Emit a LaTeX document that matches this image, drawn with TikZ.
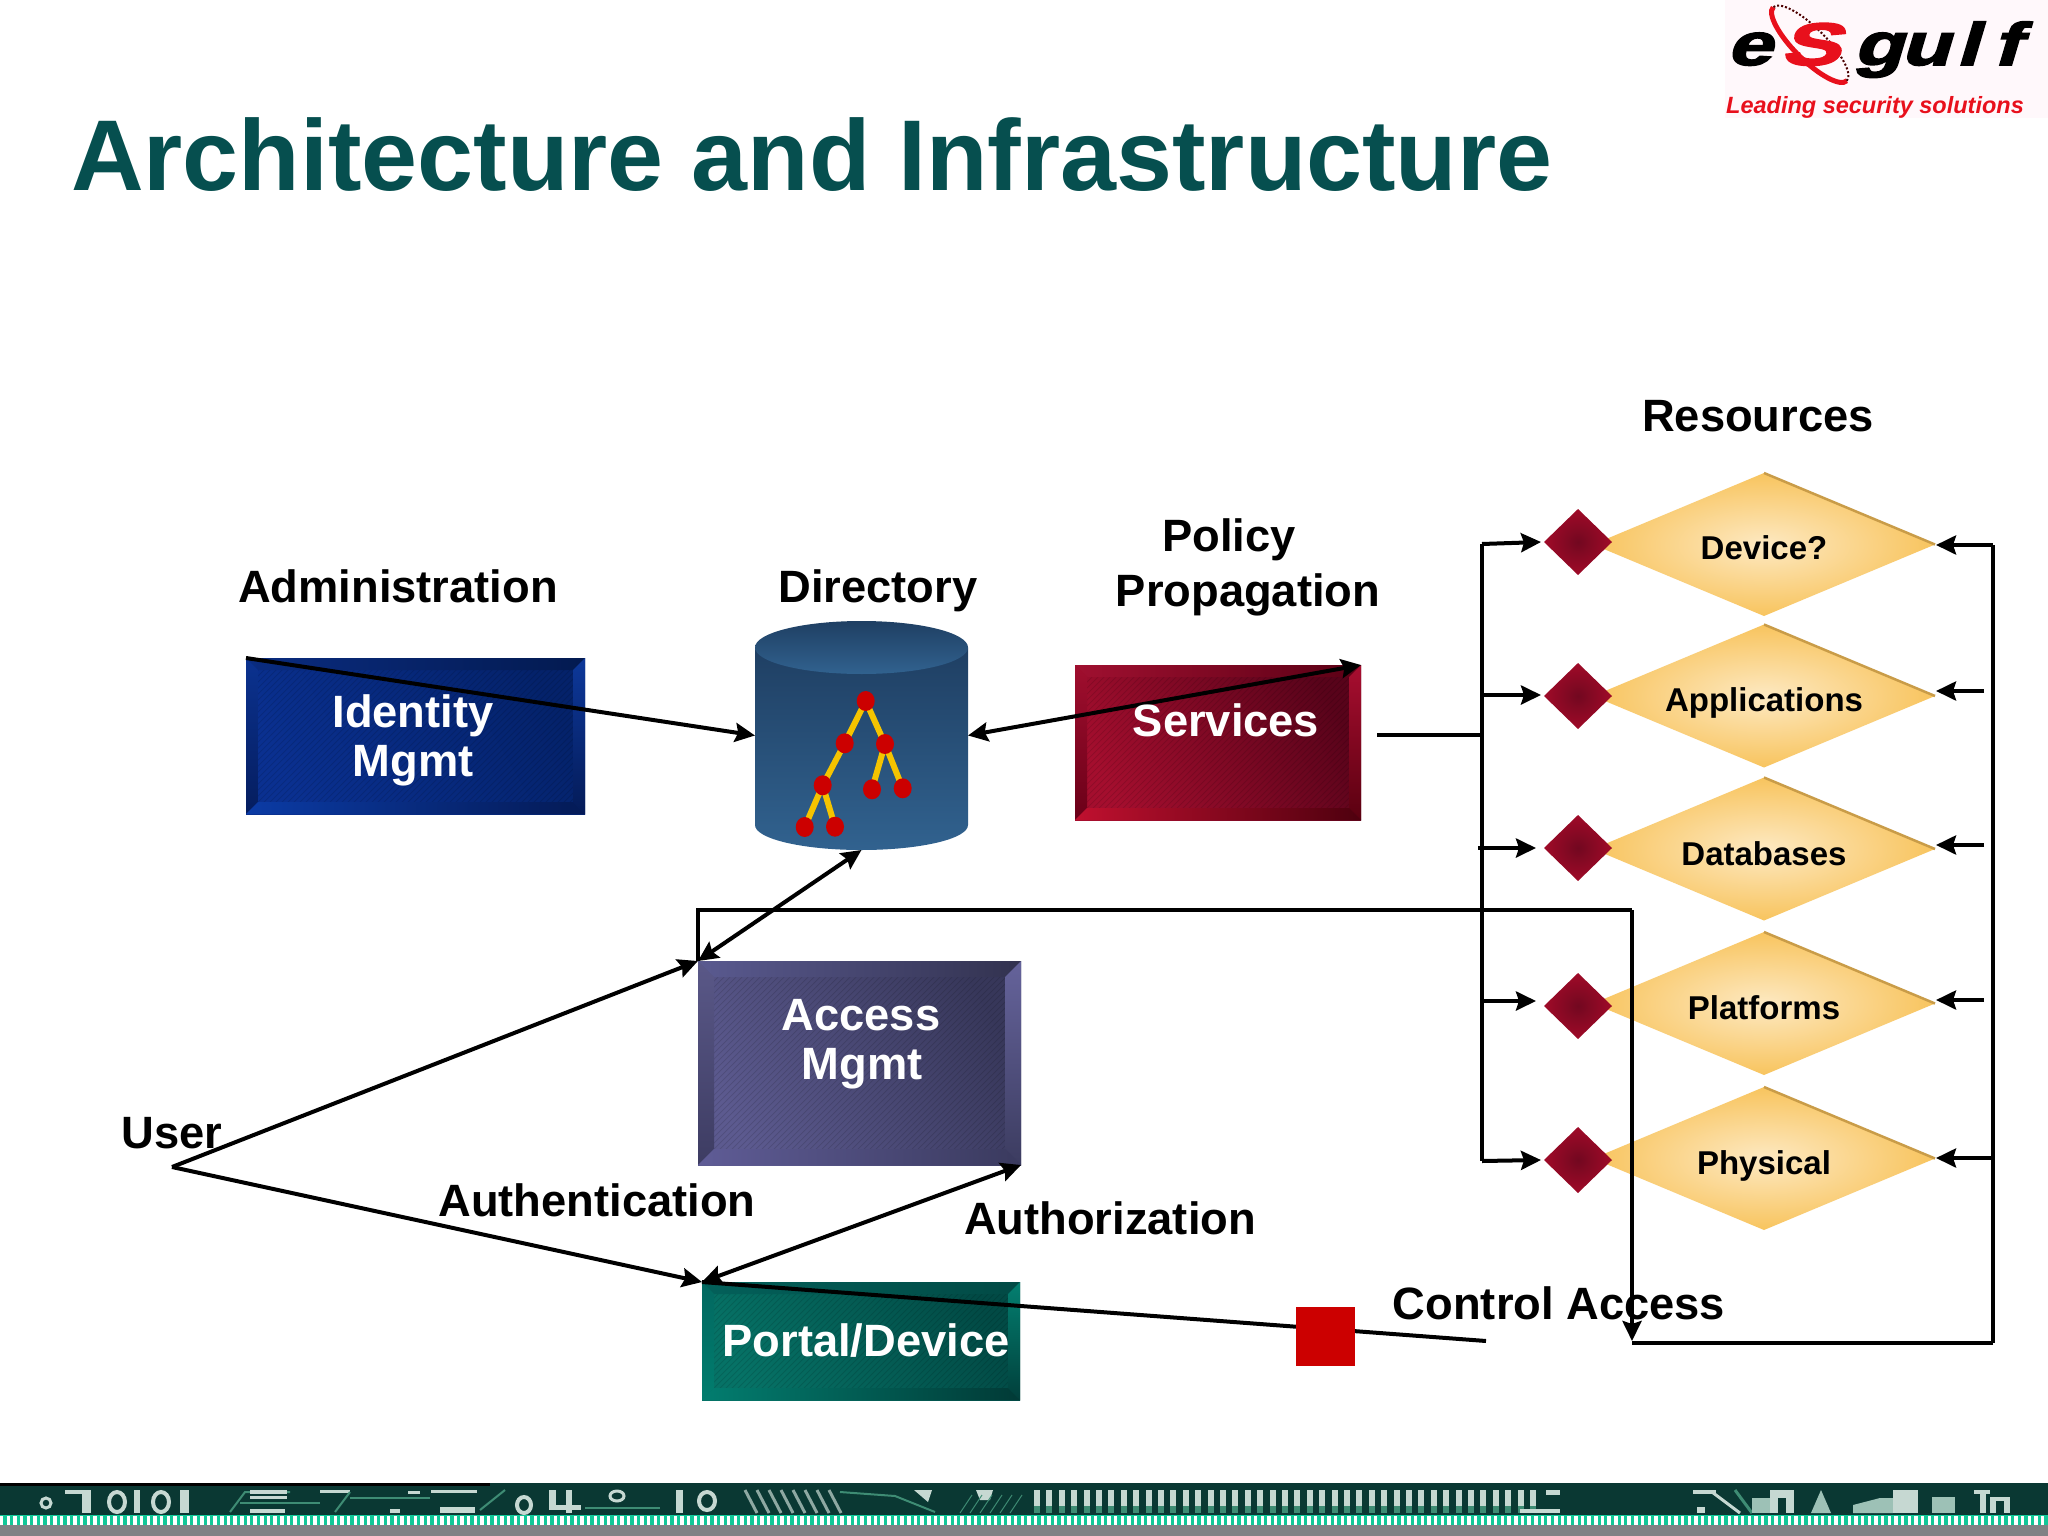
\documentclass[tikz,border=0pt]{standalone}
\usepackage{fontspec}
\setmainfont{Liberation Sans}
\newfontfamily\logofont[FakeBold=2.5,FakeSlant=0.22]{Liberation Sans Bold}
\usetikzlibrary{arrows.meta,shapes.geometric,calc}
\definecolor{titlecol}{HTML}{064F4F}
\definecolor{stripdark}{HTML}{0A3833}
\definecolor{stripgreen}{HTML}{12C898}
\definecolor{stripgrey}{HTML}{808284}
\definecolor{strippale}{HTML}{C6D8D2}
\definecolor{stripmid}{HTML}{3E8C74}
\definecolor{logored}{HTML}{E8101C}
\definecolor{logobg}{HTML}{FFF8FB}
\definecolor{treeyellow}{HTML}{F5C400}
\definecolor{treered}{HTML}{CC0000}
\definecolor{goldedge}{HTML}{C99C48}
\definecolor{GoldIn}{HTML}{FDE9C2}
\definecolor{GoldOut}{HTML}{F8C45E}
\definecolor{RedIn}{HTML}{720820}
\definecolor{RedOut}{HTML}{A00A28}
% inner A/B, top L/R, left T/B, right T/B, bottom L/R
\definecolor{idmIA}{HTML}{0A3090}\definecolor{idmIB}{HTML}{04226A}
\definecolor{idmTA}{HTML}{0A2C80}\definecolor{idmTB}{HTML}{031A50}
\definecolor{idmLA}{HTML}{0B3290}\definecolor{idmLB}{HTML}{051D5E}
\definecolor{idmRA}{HTML}{0D389A}\definecolor{idmRB}{HTML}{041B58}
\definecolor{idmDA}{HTML}{0B3BA5}\definecolor{idmDB}{HTML}{041A56}
\definecolor{svcIA}{HTML}{A40E2E}\definecolor{svcIB}{HTML}{58031A}
\definecolor{svcTA}{HTML}{A01030}\definecolor{svcTB}{HTML}{5A0015}
\definecolor{svcLA}{HTML}{A00E2E}\definecolor{svcLB}{HTML}{6A0018}
\definecolor{svcRA}{HTML}{A80E30}\definecolor{svcRB}{HTML}{5A0010}
\definecolor{svcDA}{HTML}{C0102F}\definecolor{svcDB}{HTML}{4E000E}
\definecolor{accIA}{HTML}{5C5A8F}\definecolor{accIB}{HTML}{37375A}
\definecolor{accTA}{HTML}{5A5A90}\definecolor{accTB}{HTML}{32324F}
\definecolor{accLA}{HTML}{5A5888}\definecolor{accLB}{HTML}{3D3C62}
\definecolor{accRA}{HTML}{65639B}\definecolor{accRB}{HTML}{3C3C60}
\definecolor{accDA}{HTML}{5F5C96}\definecolor{accDB}{HTML}{3A3A5E}
\definecolor{ptlIA}{HTML}{067266}\definecolor{ptlIB}{HTML}{024A45}
\definecolor{ptlTA}{HTML}{03605A}\definecolor{ptlTB}{HTML}{024A45}
\definecolor{ptlLA}{HTML}{026860}\definecolor{ptlLB}{HTML}{017D6E}
\definecolor{ptlRA}{HTML}{037F70}\definecolor{ptlRB}{HTML}{013F3B}
\definecolor{ptlDA}{HTML}{027D6F}\definecolor{ptlDB}{HTML}{013A36}
\definecolor{cylA}{HTML}{1F3F63}\definecolor{cylB}{HTML}{31628F}
\tikzset{
  x=1pt,y=-1pt,
  lab/.style={anchor=base,inner sep=0pt,font=\fontsize{45.3}{45.3}\selectfont\bfseries,text=black},
  wlab/.style={lab,font=\fontsize{45.3}{45.3}\selectfont\bfseries,text=white},
  rlab/.style={lab,font=\fontsize{33}{33}\selectfont\bfseries},
  boxn/.style={rectangle,inner sep=0pt,outer sep=0pt},
  golddia/.style={diamond,inner sep=0pt,outer sep=0pt,minimum width=342pt,minimum height=143pt,shading=radial,inner color=GoldIn,outer color=GoldOut},
  reddia/.style={diamond,inner sep=0pt,outer sep=0pt,minimum width=68pt,minimum height=66pt,shading=radial,inner color=RedIn,outer color=RedOut},
  conn/.style={line width=4pt,draw=black,line cap=butt,line join=miter},
  arr/.style={conn,-{Stealth[length=20pt,width=19pt,inset=3pt]}},
  darr/.style={conn,{Stealth[length=20pt,width=19pt,inset=3pt]}-{Stealth[length=20pt,width=19pt,inset=3pt]}},
  treeline/.style={line width=6pt,draw=treeyellow},
  treedot/.style={fill=treered},
  pale/.style={fill=strippale},
  paleline/.style={draw=strippale,line width=3pt},
  midline/.style={draw=stripmid,line width=2pt},
  logoletter/.style={anchor=base,inner sep=0pt,xscale=1.35,font=\fontsize{60}{60}\selectfont\logofont},
}
% node, bevel, colour prefix
\newcommand{\bevelbox}[3]{%
  \shade[left color=#3IA,right color=#3IB,shading angle=120]
    (#1.north west) rectangle (#1.south east);
  \begin{scope}
    \clip ($(#1.north west)+(#2,#2)$) rectangle ($(#1.south east)+(-#2,-#2)$);
    \foreach \k in {-300,-294,...,340}{
      \draw[black,opacity=.13,line width=.7pt]
        ($(#1.south west)+(\k,0)$) -- ++(320,-320);
    }
  \end{scope}
  \shade[left color=#3TA,right color=#3TB] (#1.north west)--(#1.north east)--($(#1.north east)+(-#2,#2)$)--($(#1.north west)+(#2,#2)$)--cycle;
  \shade[top color=#3LA,bottom color=#3LB] (#1.north west)--(#1.south west)--($(#1.south west)+(#2,-#2)$)--($(#1.north west)+(#2,#2)$)--cycle;
  \shade[top color=#3RA,bottom color=#3RB] (#1.north east)--(#1.south east)--($(#1.south east)+(-#2,-#2)$)--($(#1.north east)+(-#2,#2)$)--cycle;
  \shade[left color=#3DA,right color=#3DB] (#1.south west)--(#1.south east)--($(#1.south east)+(-#2,-#2)$)--($(#1.south west)+(#2,-#2)$)--cycle;
}
\begin{document}
\begin{tikzpicture}
\useasboundingbox (0,0) rectangle (2048,1536);
\fill[white] (0,0) rectangle (2048,1536);

% --- logo
\fill[logobg] (1725,0) rectangle (2048,118);
\draw[logored,line width=5pt,rotate around={-45:(1810,44)}]
  (1758,44) arc[start angle=180,end angle=0,x radius=52,y radius=16];
\draw[black!70!red,line width=2pt,dotted,rotate around={-45:(1810,44)}]
  (1862,44) arc[start angle=0,end angle=-180,x radius=52,y radius=16];
\node[logoletter] (logoe) at (1749,65) {e};
\node[logoletter,text=logored,xscale=1.1] (logos) at (1810,65) {S};
\node[logoletter] (logog) at (1878,65) {g};
\node[logoletter] (logou) at (1925,65) {u};
\node[logoletter] (logol) at (1967,65) {l};
\node[logoletter] (logof) at (2006,65) {f};
\node[anchor=base,inner sep=0pt,text=logored,font=\fontsize{23.5}{23.5}\selectfont\bfseries\itshape] (logot) at (1875,114) {Leading security solutions};

% --- title
\node[anchor=base west,inner sep=0pt,text=titlecol,font=\fontsize{100.6}{100.6}\selectfont\bfseries] (title) at (71,190) {Architecture and Infrastructure};

% --- boxes
\node[boxn,minimum width=339pt,minimum height=156pt] (idm) at (415.5,736) {};
\node[boxn,minimum width=286pt,minimum height=155pt] (svc) at (1218,742.5) {};
\node[boxn,minimum width=323pt,minimum height=204pt] (acc) at (859.5,1063) {};
\node[boxn,minimum width=318pt,minimum height=118pt] (ptl) at (861,1341) {};
\bevelbox{idm}{12}{idm}
\bevelbox{svc}{12}{svc}
\bevelbox{acc}{16}{acc}
\bevelbox{ptl}{12}{ptl}

% --- cylinder
\node[boxn,minimum width=213pt,minimum height=229pt] (dir) at (861.5,735.5) {};
\shade[top color=cylA,bottom color=cylB]
  (755,647.5) -- (755,825) arc[start angle=180,end angle=0,x radius=106.5,y radius=25] -- (968,647.5) -- cycle;
\shade[top color=cylA,bottom color=cylB] (861.5,647.5) ellipse[x radius=106.5,y radius=26.5];
\coordinate (t1) at (865.7,701);
\coordinate (t2) at (844.7,743.3);
\coordinate (t3) at (885,744);
\coordinate (t4) at (822.7,785.3);
\coordinate (t5) at (872,789.3);
\coordinate (t6) at (902.7,788.3);
\coordinate (t7) at (804.7,827);
\coordinate (t8) at (835,826.7);
\draw[treeline] (t1)--(t2)--(t4)--(t7) (t4)--(t8) (t1)--(t3)--(t5) (t3)--(t6);
\foreach \t in {t1,t2,t3,t4,t5,t6,t7,t8}{
  \fill[treedot] (\t) ellipse[x radius=9,y radius=10];
}

% --- resource diamonds
\foreach \n/\y in {a/544.5,b/696,c/849,d/1003.5,e/1158.5}{
  \node[golddia] (gold\n) at (1764,\y) {};
  \draw[goldedge,line width=2.5pt] (gold\n.north) -- (gold\n.east);
}
\foreach \n/\y in {a/542,b/696,c/848,d/1006,e/1160}{
  \node[reddia] (red\n) at (1578,\y) {};
}

% --- connectors
\coordinate (busTop) at (1482,544);
\coordinate (busBot) at (1482,1161);
\coordinate (busMid) at (1482,735);
\coordinate (svcOut) at (1377,735);
\coordinate (rTop) at (1993,545);
\coordinate (rBot) at (1993,1343);
\coordinate (rEnd) at (1632,1343);
\coordinate (loopA) at (1632,910);
\coordinate (loopB) at (698,910);
\coordinate (loopC) at (1632,1341);
\coordinate (lineEnd) at (1486,1341);
\coordinate (user) at (172,1167);

\draw[conn] (svcOut) -- (busMid);
\draw[conn,line cap=square] (busTop) -- (busBot);
\draw[arr] (busTop) -- (1541,542);
\draw[arr] (1482,695) -- (1541,695);
\draw[arr] (1478,848) -- (1536,848);
\draw[arr] (1482,1001) -- (1536,1001);
\draw[arr] (busBot) -- (1541,1160);

\draw[conn] (rBot) -- (rEnd);
\draw[conn,line cap=square] (rTop) -- (rBot);
\draw[arr] (rTop) -- (1936,545);
\draw[arr] (1984,691) -- (1936,691);
\draw[arr] (1984,845) -- (1936,845);
\draw[arr] (1984,1000) -- (1936,1000);
\draw[arr] (1993,1158) -- (1936,1158);

\draw[arr] (loopA) -- (loopC);
\draw[conn] (loopA) -- (loopB) -- (acc.north west);

\draw[arr] (idm.north west) -- (dir.west);
\draw[darr] (svc.north east) -- (dir.east);
\draw[darr] (dir.south) -- (acc.north west);
\draw[arr] (user) -- (acc.north west);
\draw[arr] (user) -- (ptl.north west);
\draw[darr] (acc.south east) -- (ptl.north west);
\draw[conn] (ptl.north west) -- (lineEnd);

\node[boxn,fill=treered,minimum width=59pt,minimum height=59pt] (sq) at (1325.5,1336.5) {};

% --- texts
\node[wlab] (tidm1) at (413,727) {Identity};
\node[wlab] (tidm2) at (413,776) {Mgmt};
\node[wlab] (tsvc) at (1226,736) {Services};
\node[wlab] (tacc1) at (861,1030) {Access};
\node[wlab] (tacc2) at (862,1079) {Mgmt};
\node[wlab] (tptl) at (866,1356) {Portal/Device};
\node[lab] (tres) at (1758,431) {Resources};
\node[lab] (tpol1) at (1229,551) {Policy};
\node[lab] (tpol2) at (1248,606) {Propagation};
\node[lab] (tadm) at (398,602) {Administration};
\node[lab] (tdir) at (878,602) {Directory};
\node[lab] (tusr) at (172,1148) {User};
\node[lab] (taun) at (597,1216) {Authentication};
\node[lab] (taur) at (1110,1234) {Authorization};
\node[lab] (tctl) at (1559,1319) {Control Access};
\node[rlab] (rtxa) at (1764,559) {Device?};
\node[rlab] (rtxb) at (1764,711) {Applications};
\node[rlab] (rtxc) at (1764,865) {Databases};
\node[rlab] (rtxd) at (1764,1019) {Platforms};
\node[rlab] (rtxe) at (1764,1174) {Physical};

% --- bottom strip
\fill[stripgrey] (0,1525) rectangle (2048,1536);
\fill[stripgreen] (0,1515) rectangle (2048,1525);
\foreach \x in {0,6.67,...,2048}{
  \fill[white] (\x,1516) rectangle ++(3.4,9);
}
\fill[stripdark] (0,1483) rectangle (2048,1515);
\fill[black] (0,1483) rectangle (490,1486);
% digits and circuit marks
\fill[pale] (65,1490) rectangle (90,1494);
\fill[pale] (82,1490) rectangle (91,1513);
\draw[paleline] (46,1503) circle[radius=5];
\draw[paleline,line width=4pt] (117,1502) ellipse[x radius=8,y radius=10];
\fill[pale] (134,1490) rectangle (140,1513);
\draw[paleline,line width=4pt] (161,1502) ellipse[x radius=8,y radius=10];
\fill[pale] (180,1490) rectangle (189,1513);
\draw[midline] (230,1512) -- (245,1492) -- (290,1492);
\fill[pale] (250,1490) rectangle (287,1494);
\fill[pale] (250,1496) rectangle (287,1499);
\draw[midline] (240,1503) -- (320,1503);
\fill[pale] (250,1509) rectangle (285,1513);
\fill[pale] (320,1490) rectangle (350,1493);
\draw[midline] (335,1512) -- (350,1492);
\draw[midline] (350,1498) -- (430,1498);
\fill[pale] (390,1509) rectangle (400,1513);
\fill[pale] (408,1491) rectangle (420,1494);
\fill[pale] (431,1490) rectangle (477,1493);
\fill[pale] (440,1507) rectangle (475,1513);
\draw[midline] (480,1510) -- (505,1490);
\draw[paleline,line width=4pt] (524,1505) ellipse[x radius=7,y radius=8];
\fill[pale] (549,1490) rectangle (556,1508);
\fill[pale] (566,1490) rectangle (572,1513);
\fill[pale] (549,1505) rectangle (581,1510);
\draw[paleline,line width=3pt] (617,1496) ellipse[x radius=7,y radius=5];
\draw[midline] (585,1508) -- (660,1508);
\fill[pale] (676,1490) rectangle (683,1513);
\draw[paleline,line width=4pt] (707,1501) ellipse[x radius=8,y radius=9];
\foreach \x in {745,757,...,835}{
  \draw[midline,line width=3pt,draw=strippale!70!stripdark] (\x,1490) -- (\x+12,1513);
}
\draw[midline] (840,1492) -- (895,1496) -- (935,1512);
\fill[pale] (914,1490) -- (932,1490) -- (928,1502) -- cycle;
\fill[pale] (976,1490) -- (993,1490) -- (990,1500) -- (980,1500) -- cycle;
\foreach \x in {960,970,...,1010}{
  \draw[midline,line width=1pt] (\x,1513) -- (\x+12,1495);
}
% barcode
\foreach \x in {1034,1046.4,...,1534}{
  \fill[strippale] (\x,1490) rectangle ++(6,16);
  \fill[stripmid] (\x,1506) rectangle ++(6,7);
}
\fill[pale] (1546,1490) rectangle (1560,1495);
\fill[pale] (1520,1509) rectangle (1560,1513);
% right-hand marks
\fill[pale] (1693,1490) rectangle (1716,1494);
\draw[paleline] (1712,1492) -- (1740,1513);
\fill[pale] (1697,1507) rectangle (1705,1513);
\draw[midline,line width=3pt] (1735,1490) -- (1752,1513);
\fill[strippale!70!stripmid] (1752,1498) rectangle (1770,1513);
\fill[pale] (1770,1490) rectangle (1794,1513);
\fill[stripdark] (1778,1498) rectangle (1786,1513);
\fill[strippale!70!stripmid] (1811,1513) -- (1821,1490) -- (1831,1513) -- cycle;
\fill[strippale!70!stripmid] (1853,1513) -- (1853,1505) -- (1880,1498) -- (1893,1498) -- (1893,1513) -- cycle;
\fill[pale] (1893,1490) rectangle (1918,1513);
\fill[strippale!70!stripmid] (1932,1497) rectangle (1955,1513);
\fill[pale] (1974,1490) rectangle (1990,1494);
\fill[pale] (1980,1494) rectangle (1986,1513);
\fill[pale] (1990,1497) rectangle (2010,1513);
\fill[stripdark] (1996,1501) rectangle (2004,1513);
\end{tikzpicture}
\end{document}
